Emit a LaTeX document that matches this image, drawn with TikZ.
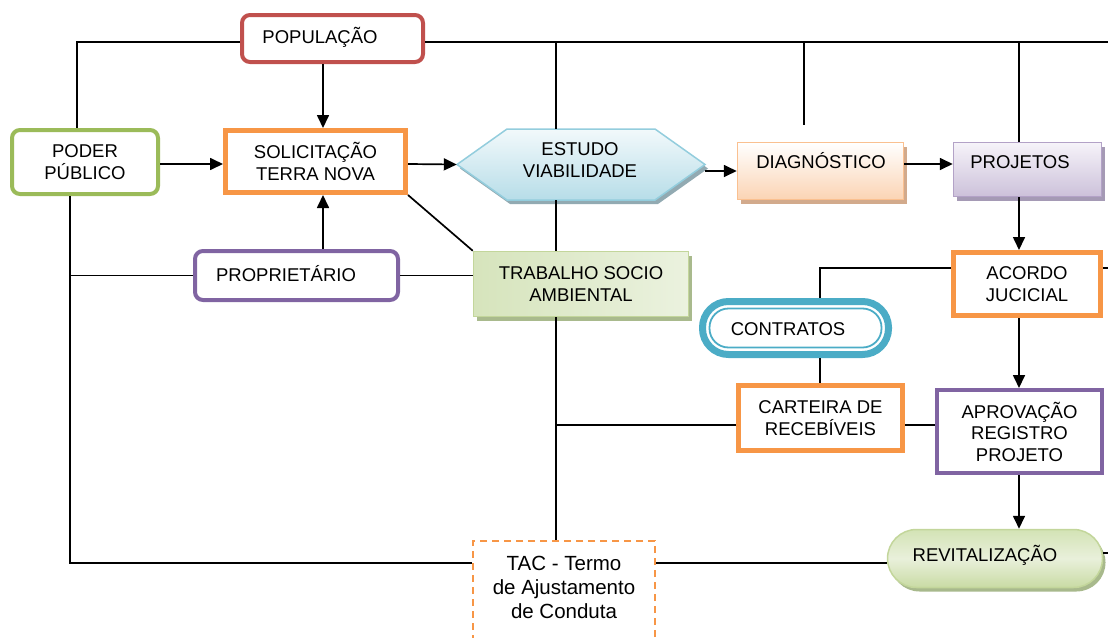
\documentclass[tikz,border=0pt]{standalone}
\usepackage{fontspec}
\setmainfont{Liberation Sans}
\usetikzlibrary{arrows.meta,shadows,calc}
\definecolor{cred}{HTML}{C0504D}
\definecolor{cgreen}{HTML}{9BBB59}
\definecolor{corange}{HTML}{F79646}
\definecolor{cpurple}{HTML}{8064A2}
\definecolor{cblue}{HTML}{4BACC6}
\definecolor{estB}{HTML}{93CDDD}
\definecolor{estT}{HTML}{F2F9FB}
\definecolor{estD}{HTML}{B7DDE8}
\definecolor{estS}{HTML}{92AAB2}
\definecolor{diagB}{HTML}{FAC090}
\definecolor{diagD}{HTML}{FBD4B4}
\definecolor{diagS}{HTML}{D2AA8C}
\definecolor{projB}{HTML}{B3A2C7}
\definecolor{projT}{HTML}{F6F3F9}
\definecolor{projD}{HTML}{CCC1DA}
\definecolor{projS}{HTML}{A59AB5}
\definecolor{trabB}{HTML}{C3D69B}
\definecolor{trabL}{HTML}{D6E4BC}
\definecolor{trabR}{HTML}{EBF2DF}
\definecolor{trabS}{HTML}{A9BA8D}
\definecolor{revT}{HTML}{D3E3B5}
\definecolor{revM}{HTML}{E9F0DB}
\definecolor{revD}{HTML}{C9DBA4}
\definecolor{revS}{HTML}{A8B98C}
\begin{document}
\begin{tikzpicture}[x=1pt,y=-1pt,
  txt/.style={font=\fontsize{18.5}{21.5}\selectfont, align=center, text=black, inner sep=0pt},
  bx/.style={txt, draw, rectangle},
  rbox/.style={bx, rounded corners=8pt, line width=4pt},
  sbox/.style={bx, line width=5pt, draw=corange},
  conn/.style={line width=1.7pt, draw=black},
  arr/.style={conn, -{Triangle[length=13pt,width=12pt]}}]
\useasboundingbox (0,0) rectangle (1108,637);
\clip (0,0) rectangle (1108,637);

% helper coordinates
\coordinate (xL) at (70,0);
\coordinate (xP) at (77,0);
\coordinate (xA) at (323,0);
\coordinate (xM) at (556,0);
\coordinate (xD) at (804,0);
\coordinate (xC) at (820,0);
\coordinate (xR) at (1019,0);
\coordinate (xE) at (1108,0);
\coordinate (yT) at (0,42);
\coordinate (y164) at (0,164);
\coordinate (y268) at (0,268);
\coordinate (y425) at (0,425);
\coordinate (y553) at (0,553);
\coordinate (y563) at (0,563);
\coordinate (dEnd) at (804,125);

% hexagon shape
\path[draw=estB, line width=1.5pt, top color=estT, bottom color=estD,
  drop shadow={shadow xshift=3pt, shadow yshift=-4pt, opacity=1, fill=estS}]
  (457,164.5) -- (507,129) -- (655,129) -- (705,164.5) -- (655,200) -- (507,200) -- cycle;

% nodes
\node[rbox, draw=cred, minimum width=181pt, minimum height=47pt] (pop) at (332.5,38.5) {};
\node[txt] (popt) at (320,37) {POPULAÇÃO};
\node[rbox, draw=cgreen, minimum width=146pt, minimum height=64pt] (pod) at (85,162) {PODER\\PÚBLICO};
\node[sbox, minimum width=180pt, minimum height=62pt] (sol) at (315.5,161.5) {SOLICITAÇÃO\\TERRA NOVA};
\node[rbox, draw=cpurple, minimum width=203pt, minimum height=49pt] (prop) at (296.5,275.5) {};
\node[txt] (propt) at (286,274) {PROPRIETÁRIO};
\node[txt, minimum width=248pt, minimum height=71pt] (est) at (581,164.5) {};
\node[txt] (estt) at (580,160) {ESTUDO\\VIABILIDADE};
\node[bx, draw=diagB, line width=1.5pt, top color=white, bottom color=diagD,
  drop shadow={shadow xshift=3pt, shadow yshift=-4pt, opacity=1, fill=diagS},
  minimum width=166pt, minimum height=57pt] (diag) at (820.5,171) {};
\node[txt] (diagt) at (821,161) {DIAGNÓSTICO};
\node[bx, draw=projB, line width=1.5pt, top color=projT, bottom color=projD,
  drop shadow={shadow xshift=3pt, shadow yshift=-4pt, opacity=1, fill=projS},
  minimum width=148pt, minimum height=54pt] (proj) at (1027.5,169.5) {};
\node[txt] (projt) at (1020,162) {PROJETOS};
\node[bx, draw=trabB, line width=1.5pt, left color=trabL, right color=trabR,
  drop shadow={shadow xshift=3pt, shadow yshift=-4pt, opacity=1, fill=trabS},
  minimum width=215pt, minimum height=65pt] (trab) at (581,284) {TRABALHO SOCIO\\AMBIENTAL};
\node[sbox, minimum width=147pt, minimum height=63pt] (acordo) at (1027,284) {ACORDO\\JUCICIAL};
\node[txt, draw=cblue, line width=7pt, rounded corners=26pt, minimum width=186pt, minimum height=53pt] (contr) at (795.5,328) {};
\draw[cblue, line width=1.8pt, rounded corners=19pt] (709.5,308.5) rectangle (881.5,347.5);
\node[txt] (contrt) at (788,329) {CONTRATOS};
\node[sbox, minimum width=164pt, minimum height=65pt] (cart) at (820.5,418) {CARTEIRA DE\\RECEBÍVEIS};
\node[bx, draw=cpurple, line width=4pt, minimum width=165pt, minimum height=83pt] (aprov) at (1019.5,431.5) {APROVAÇÃO\\REGISTRO\\PROJETO};
\node[bx, draw=trabB, line width=1.5pt, rounded corners=29pt, top color=revT, bottom color=revD, middle color=revM,
  drop shadow={shadow xshift=3pt, shadow yshift=-4pt, opacity=1, fill=revS},
  minimum width=215pt, minimum height=58pt] (revit) at (995,558.5) {};
\node[txt] (revitt) at (985,555) {REVITALIZAÇÃO};
\node[bx, draw=corange, line width=2pt, dash pattern=on 7pt off 5pt, minimum width=182pt, minimum height=130pt] (tac) at (564,606) {};
\node[txt, font=\fontsize{20.5}{24}\selectfont] (tact) at (564,587) {TAC - Termo\\de Ajustamento\\de Conduta};

% connectors
\draw[conn] (pop.west |- yT) -| (pod.north -| xP);
\draw[conn] (pop.east |- yT) -- (yT -| xE);
\draw[conn] (yT -| xM) -- (est.north -| xM);
\draw[conn] (yT -| xD) -- (dEnd);
\draw[conn] (yT -| xR) -- (proj.north -| xR);
\draw[arr] (pop.south -| xA) -- (sol.north -| xA);
\draw[arr] (pod.east |- y164) -- (sol.west |- y164);
\draw[arr] (sol.east |- y164) -- (est.west);
\draw[arr] (est.east |- diag.west) -- (diag.west);
\draw[arr] (diag.east |- y164) -- (proj.west |- y164);
\draw[conn] (sol.south east) -- (trab.north west);
\draw[conn] (est.south -| xM) -- (trab.north -| xM);
\draw[conn] (trab.south -| xM) -- (tac.north -| xM);
\draw[arr] (prop.north -| xA) -- (sol.south -| xA);
\draw[conn] (pod.south -| xL) |- (tac.west |- y563);
\draw[conn] (prop.west) -- (prop.west -| xL);
\draw[conn] (prop.east) -- (trab.west |- prop.east);
\draw[conn] (acordo.west |- y268) -| (contr.north -| xC);
\draw[conn] (acordo.east |- y268) -- (y268 -| xE);
\draw[conn] (contr.south -| xC) -- (cart.north -| xC);
\draw[conn] (y425 -| xM) -- (cart.west |- y425);
\draw[conn] (cart.east |- y425) -- (aprov.west |- y425);
\draw[arr] (proj.south -| xR) -- (acordo.north -| xR);
\draw[arr] (acordo.south -| xR) -- (aprov.north -| xR);
\draw[arr] (aprov.south -| xR) -- (revit.north -| xR);
\draw[conn] (tac.east |- y563) -- (revit.west |- y563);
\draw[conn] (revit.east |- y553) -- (y553 -| xE);
\end{tikzpicture}
\end{document}
